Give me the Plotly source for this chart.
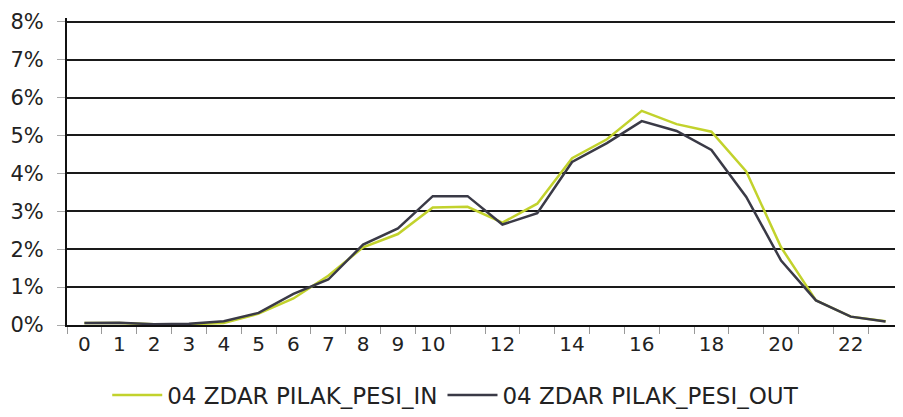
import plotly.graph_objects as go

hours = [str(h) for h in range(24)]
hour_labels = [str(h) if (h <= 10 or h % 2 == 0) else "" for h in range(24)]

pesi_in = [0.05, 0.05, 0.02, 0.02, 0.05, 0.3, 0.7, 1.3, 2.05, 2.4, 3.1, 3.12,
           2.7, 3.2, 4.4, 4.9, 5.65, 5.3, 5.1, 4.05, 2.05, 0.65, 0.22, 0.1]
pesi_out = [0.05, 0.06, 0.02, 0.03, 0.1, 0.32, 0.82, 1.2, 2.12, 2.55, 3.4, 3.4,
            2.65, 2.95, 4.3, 4.8, 5.38, 5.12, 4.62, 3.38, 1.7, 0.65, 0.22, 0.09]

y_ticks = list(range(0, 9))
y_labels = [f"{v}%" for v in y_ticks]

fig = go.Figure()

fig.add_trace(go.Scatter(
    x=hours, y=pesi_in, name="04 ZDAR PILAK_PESI_IN",
    mode="lines", line=dict(color="#c2d22c", width=2.5)
))
fig.add_trace(go.Scatter(
    x=hours, y=pesi_out, name="04 ZDAR PILAK_PESI_OUT",
    mode="lines", line=dict(color="#3a3a46", width=2.5)
))

# page body keeps an 8px margin, so the figure is a bit smaller than the window
fig.update_layout(
    width=895, height=409,
    margin=dict(l=59, r=0, t=10, b=89),
    paper_bgcolor="white", plot_bgcolor="white",
    font=dict(family="DejaVu Sans", size=20, color="#222"),
    showlegend=True,
    legend=dict(orientation="h", x=0.465, xanchor="center", y=-0.228, yanchor="middle",
                font=dict(size=23), itemwidth=50),
    xaxis=dict(
        type="category", tickvals=hours, ticktext=hour_labels,
        tickson="boundaries", ticks="outside", ticklen=7, tickcolor="#999",
        showgrid=False, showline=True, linecolor="#111", linewidth=2,
        tickfont=dict(size=20), range=[-0.5, 23.5], automargin=False
    ),
    yaxis=dict(
        range=[0, 8.1], tickvals=y_ticks, ticktext=y_labels,
        ticks="outside", ticklen=8, tickcolor="#aaa", ticklabelstandoff=9,
        showgrid=True, gridcolor="#1a1a1a", gridwidth=1.8,
        showline=True, linecolor="#111", linewidth=2,
        zeroline=False, tickfont=dict(size=21), automargin=False
    ),
)

fig.write_html("out.html")
